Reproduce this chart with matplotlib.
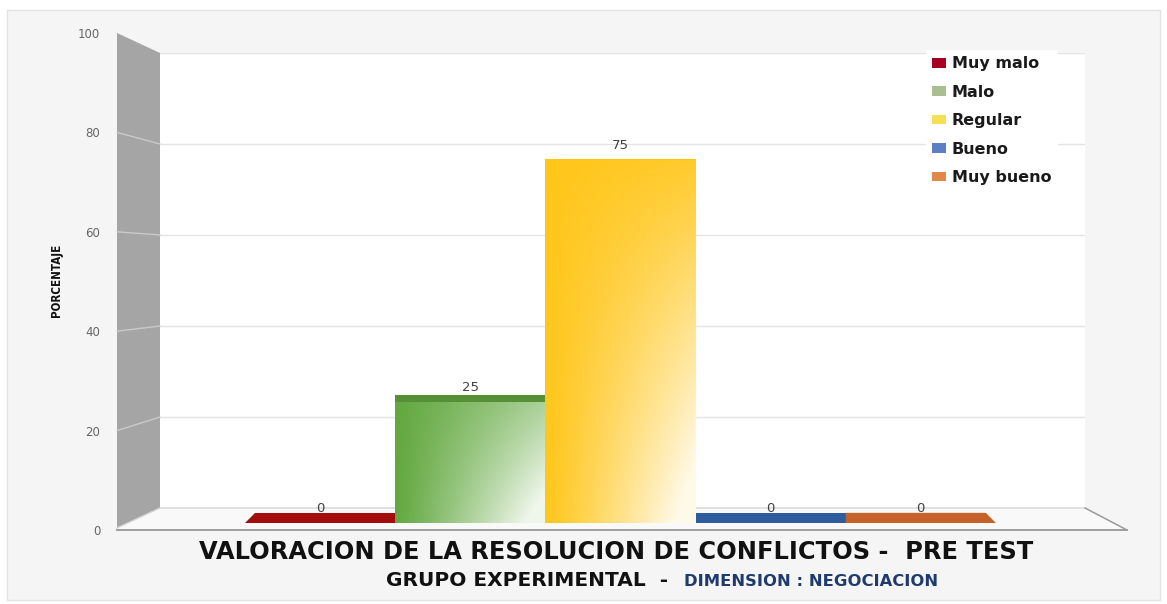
import numpy as np
import matplotlib
matplotlib.use('Agg')
import matplotlib.pyplot as plt
from matplotlib import font_manager
from matplotlib.patches import Rectangle, Polygon, Patch, ConnectionPatch

# data
categorias = ['Muy malo', 'Malo', 'Regular', 'Bueno', 'Muy bueno']
porcentajes = [0, 25, 75, 0, 0]
yticks = [0, 20, 40, 60, 80, 100]

color_frente = ['#a50d0d', '#62a83f', '#ffc61a', '#2f5c9e', '#c5622a']
color_tapa = ['#a50d0d', '#568f36', '#fcc814', '#2f5c9e', '#c5622a']
color_leyenda = ['#a50021', '#a9bf8f', '#f5df55', '#5b7fc0', '#e0874a']
base_grad = [0, 0.45, 0.08, 0, 0]

W, H = 1167, 604


def fx(x):
    return x / W


def fy(y):
    return 1 - y / H


def rect(l, t, r, b):
    return [l / W, 1 - b / H, (r - l) / W, (b - t) / H]


fig = plt.figure(figsize=(W / 100, H / 100), dpi=100, facecolor='white')

# panel de fondo
fig.patches.append(Rectangle((fx(7), fy(600)), fx(1160) - fx(7), fy(10) - fy(600),
                             transform=fig.transFigure, facecolor='#f5f5f5',
                             edgecolor='#e2e2e2', lw=1, zorder=-5))

# pared del fondo
ax_back = fig.add_axes(rect(160, 53, 1085, 508), zorder=0)
ax_back.set_facecolor('white')
ax_back.set_ylim(0, 100)
ax_back.set_xlim(0, 1)
ax_back.set_yticks(yticks[1:])
ax_back.grid(axis='y', color='#e4e4e4', lw=1)
ax_back.tick_params(length=0, labelleft=False, labelbottom=False)
ax_back.set_xticks([])
for s in ax_back.spines.values():
    s.set_visible(False)

# eje de marcas (plano frontal)
ax_tick = fig.add_axes(rect(117, 33, 1127, 530), zorder=2)
ax_tick.patch.set_alpha(0)
ax_tick.set_ylim(0, 100)
ax_tick.set_xlim(0, 1)
ax_tick.set_yticks(yticks)
ax_tick.set_xticks([])
ax_tick.tick_params(axis='y', length=0, pad=12, labelsize=8.5, labelcolor='#666666')
for s in ax_tick.spines.values():
    s.set_visible(False)

# pared lateral
fig.patches.append(Polygon([(fx(117), fy(33)), (fx(160), fy(53)), (fx(160), fy(508)),
                            (fx(117), fy(528))], closed=True, transform=fig.transFigure,
                           facecolor='#a5a5a5', edgecolor='none', zorder=1))
for v in yticks[1:-1]:
    fig.add_artist(ConnectionPatch(xyA=(0, v), coordsA=ax_tick.transData,
                                   xyB=(0, v), coordsB=ax_back.transData,
                                   color='#c9c9c9', lw=1, zorder=1.5))

# piso
fig.patches.append(Polygon([(fx(117), fy(528)), (fx(160), fy(508)), (fx(1085), fy(508)),
                            (fx(1127), fy(530)), (fx(117), fy(530))], closed=True,
                           transform=fig.transFigure, facecolor='#f9f9f9',
                           edgecolor='#d6d6d6', lw=1, zorder=1))
fig.add_artist(plt.Line2D([fx(117), fx(1127)], [fy(530), fy(530)], color='#9a9a9a', lw=1.3, zorder=1.6))
fig.add_artist(plt.Line2D([fx(1085), fx(1127)], [fy(508), fy(530)], color='#9a9a9a', lw=1, zorder=1.6))

# barras
ax = fig.add_axes(rect(117, 39, 1127, 523), zorder=3)
ax.patch.set_alpha(0)
x = np.arange(len(categorias))
barras = ax.bar(x, porcentajes, width=1.0, color=color_frente, edgecolor='none')

for i, (b, v) in enumerate(zip(barras, porcentajes)):
    x0, x1 = i - 0.5, i + 0.5
    d = max(2.1 * (1 - v / 80), 0.15)
    inL = 0.067 if i == 0 else 0
    inR = 0.067 if i == len(categorias) - 1 else 0
    if v > 0:
        s = np.linspace(0, 1, 120)[None, :]
        u = np.linspace(0, 1, 120)[:, None]
        w = np.clip(1.05 * s ** 1.1 * (base_grad[i] + (1 - base_grad[i]) * u), 0, 0.9)
        c = np.array(matplotlib.colors.to_rgb(color_frente[i]))
        img = c[None, None, :] * (1 - w[..., None]) + w[..., None]
        im = ax.imshow(img, extent=(x0, x1, 0, v), origin='upper', aspect='auto', zorder=2)
        im.set_clip_path(b)
    ax.add_patch(Polygon([(x0, v), (x1, v), (x1 - inR, v + d), (x0 + inL, v + d)],
                         closed=True, facecolor=color_tapa[i], edgecolor='none', zorder=3))
    ax.annotate(str(v), (i, v), xytext=(0, 10.5), textcoords='offset points', ha='center',
                va='center', fontsize=9.5, color='#404040', zorder=4)

ax.set_xlim(-(320 - 117) / 150.2, (1127 - 320) / 150.2)
ax.set_ylim(0, 100)
ax.axis('off')

# leyenda
handles = [Patch(facecolor=c, edgecolor='none', label=l) for c, l in zip(color_leyenda, categorias)]
leg = fig.legend(handles=handles, loc='upper left', bbox_to_anchor=(fx(926), fy(50)), frameon=True,
                 facecolor='white', edgecolor='none', framealpha=1, fancybox=False,
                 prop={'family': 'DejaVu Sans', 'weight': 'bold', 'size': 11.5},
                 handlelength=0.85, handleheight=0.55, handletextpad=0.35, labelspacing=0.84,
                 labelcolor='#1a1a1a', borderaxespad=0)
leg.set_zorder(2.5)

# textos
nombres = {f.name for f in font_manager.fontManager.ttflist}
if 'Liberation Sans Narrow' in nombres:
    fig.text(fx(56), fy(280), 'PORCENTAJE', rotation=90, ha='center', va='center', fontsize=10,
             weight='bold', family='Liberation Sans Narrow', color='#111111')
else:
    fig.text(fx(56), fy(280), 'PORCENTAJE', rotation=90, ha='center', va='center', fontsize=8.3,
             weight='bold', family='DejaVu Sans', stretch='condensed', color='#111111')

fig.text(fx(616), fy(552), 'VALORACION DE LA RESOLUCION DE CONFLICTOS -  PRE TEST', ha='center',
         va='center', fontsize=17.4, weight='bold', family='DejaVu Sans', color='#111111')
fig.text(fx(668), fy(581), 'GRUPO EXPERIMENTAL  -', ha='right', va='center', fontsize=14.5,
         weight='bold', family='DejaVu Sans', color='#111111')
fig.text(fx(684), fy(581), 'DIMENSION : NEGOCIACION', ha='left', va='center', fontsize=11.8,
         weight='bold', family='DejaVu Sans', color='#1f3a6e')

fig.savefig('out.png', dpi=100, facecolor=fig.get_facecolor())
